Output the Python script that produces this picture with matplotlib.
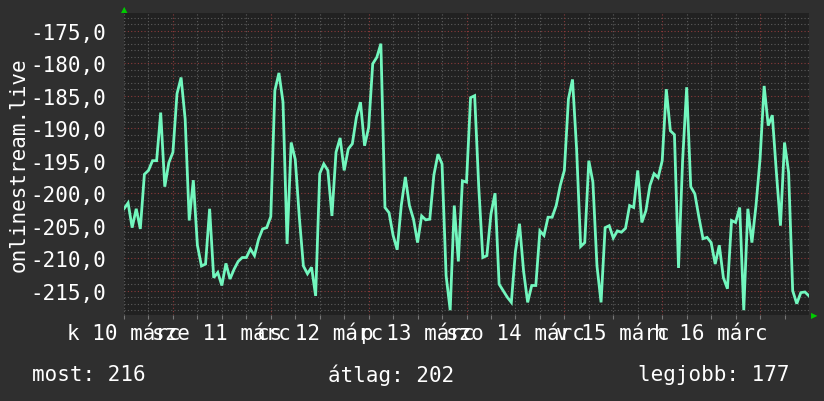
import matplotlib
matplotlib.use("Agg")
import matplotlib.pyplot as plt
import matplotlib.transforms as mtransforms
import numpy as np

# hourly rank values, starting k 10 márc 00:00
values = [
    -202.4, -201.5, -205.3, -202.4, -205.5, -197.1, -196.5, -195.0, -195.0, -187.6,
    -199.0, -195.3, -193.7, -184.7, -182.2, -188.6, -204.2, -198.0, -208.0, -211.2,
    -210.9, -202.4, -213.0, -212.2,
    -214.2, -210.8, -213.2, -211.7, -210.5, -209.9, -209.9, -208.6, -209.6, -207.1,
    -205.5, -205.3, -203.6, -184.2, -181.5, -186.0, -207.8, -192.2, -194.8, -203.7,
    -211.2, -212.4, -211.4, -215.8,
    -197.0, -195.5, -196.5, -203.5, -193.7, -191.5, -196.5, -193.2, -192.4, -188.3,
    -186.0, -192.7, -189.9, -180.1, -179.1, -177.0, -202.2, -203.0, -206.5, -208.7,
    -201.9, -197.5, -201.9, -204.0,
    -207.6, -203.5, -204.1, -204.0, -197.2, -194.0, -195.5, -212.7, -218.0, -201.9,
    -210.5, -198.1, -198.3, -185.3, -185.0, -199.0, -209.9, -209.6, -203.2, -200.0,
    -214.0, -215.0, -216.0, -216.8,
    -209.0, -204.7, -212.0, -216.8, -214.2, -214.2, -205.8, -206.5, -203.7, -203.7,
    -201.9, -198.8, -196.5, -185.5, -182.5, -193.2, -208.2, -207.6, -195.0, -198.3,
    -211.2, -216.8, -205.3, -205.0,
    -206.9, -205.8, -206.0, -205.4, -201.9, -202.2, -196.5, -204.5, -202.7, -198.8,
    -197.0, -197.6, -195.0, -184.0, -190.4, -191.0, -211.5, -195.0, -183.7, -199.0,
    -200.1, -203.7, -207.0, -206.8,
    -207.6, -210.9, -208.0, -213.0, -214.7, -204.2, -204.5, -202.2, -218.0, -202.4,
    -207.6, -201.9, -194.7, -183.5, -189.6, -188.0, -196.8, -205.0, -192.2, -196.8,
    -215.0, -217.0, -215.3, -215.2, -215.8,
]
day_labels = ["k 10 márc", "sze 11 márc", "cs 12 márc", "p 13 márc",
              "szo 14 márc", "v 15 márc", "h 16 márc"]
y_ticks = [-175, -180, -185, -190, -195, -200, -205, -210, -215]
legend = ["most: 216", "átlag: 202", "legjobb: 177"]

hours = np.arange(len(values))

bg = "#2f2f2f"
canvas = "#212121"
mono = "DejaVu Sans Mono"

fig = plt.figure(figsize=(8.24, 4.02), dpi=100, facecolor=bg)
ax = fig.add_axes([124 / 824, 86 / 402, 685 / 824, 302 / 402])
ax.set_facecolor(canvas)

ax.set_xlim(0, 168)
ax.set_ylim(-218.74, -172.28)

# grid: minor every 1 unit / 6 hours, major red every 5 units / 24 hours at noon
for v in range(-218, -172):
    if v % 5 == 0:
        continue
    ax.axhline(v, color="#5c5c5c", lw=0.8, dashes=(1, 2), zorder=1)
for v in y_ticks:
    ax.axhline(v, color="#8a3a3a", lw=0.8, dashes=(1, 2), zorder=1)
for h in range(0, 169, 6):
    if h % 24 == 12:
        ax.axvline(h, color="#8a3a3a", lw=0.8, dashes=(1, 2), zorder=1)
    else:
        ax.axvline(h, color="#5c5c5c", lw=0.8, dashes=(1, 2), zorder=1)

ax.plot(hours, values, color="#72f7be", lw=2, zorder=3, solid_joinstyle="miter")

for s in ax.spines.values():
    s.set_visible(False)

ax.set_yticks(y_ticks)
ax.set_yticklabels([f"{v},0" for v in y_ticks], family=mono, fontsize=15, color="white")
ax.tick_params(axis="y", length=0, pad=13)
ax.set_xticks(range(0, 168, 6))
ax.set_xticklabels([])
ax.tick_params(axis="x", length=3, color="#777777")

# day labels, all on one baseline
trans = mtransforms.blended_transform_factory(ax.transData, fig.transFigure)
for i, lab in enumerate(day_labels):
    ax.text(i * 24, 1 - 340 / 402, lab, transform=trans, family=mono, fontsize=15,
            color="white", ha="center", va="baseline", clip_on=False)

ax.set_ylabel("onlinestream.live", family=mono, fontsize=15, color="white")
ax.yaxis.set_label_coords(-95 / 685, 0.5)

# axis arrows
fig.text(124 / 824, 1 - 10 / 402, "▲", color="#00cc00", fontsize=6, ha="center", va="center")
fig.text(814 / 824, 1 - 316 / 402, "▶", color="#00cc00", fontsize=6, ha="center", va="center")

fig.text(32 / 824, 1 - 375 / 402, legend[0], family=mono, fontsize=15, color="white", va="center")
fig.text(328 / 824, 1 - 375 / 402, legend[1], family=mono, fontsize=15, color="white", va="center")
fig.text(790 / 824, 1 - 375 / 402, legend[2], family=mono, fontsize=15, color="white", va="center", ha="right")

fig.savefig("out.png", dpi=100, facecolor=bg)
